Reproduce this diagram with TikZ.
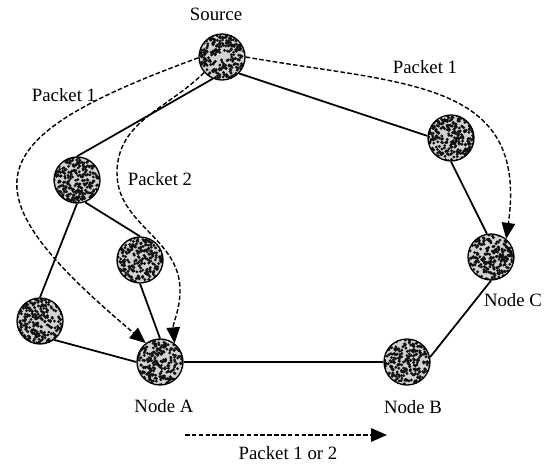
\documentclass[tikz,border=0pt]{standalone}
\usepackage{fontspec}
\setmainfont{Liberation Serif}
\usetikzlibrary{arrows.meta}
\definecolor{NetHostFill}{HTML}{D2D2D2}
\definecolor{NetHostDot}{HTML}{101010}
\definecolor{NetInk}{HTML}{000000}

\begin{document}
\begin{tikzpicture}[font=\fontsize{10.7}{12.8}\selectfont,
  host/.style={circle,draw=NetInk,line width=0.75pt,fill=NetHostFill,minimum size=9.2mm,inner sep=0pt,
    path picture={\foreach \k in {1,...,300}{\fill[NetHostDot] ([shift={(rand*4.7mm,rand*4.7mm)}]path picture bounding box.center) circle (0.9pt);}}},
  link/.style={draw=NetInk,line width=1pt},
  route/.style={draw=NetInk,line width=0.8pt,dash pattern=on 2.6pt off 1.3pt,-{Triangle[length=3.2mm,width=2.7mm]}},
  tag/.style={inner sep=1pt}]
  \useasboundingbox (0,0) rectangle (10.88,9.36);
  \pgfmathsetseed{1207}

  % hosts
  \node[host] (src) at (4.44,8.22) {};
  \node[host] (hop1) at (1.54,5.76) {};
  \node[host] (hop2) at (2.80,4.16) {};
  \node[host] (hop3) at (0.80,2.94) {};
  \node[host] (hop4) at (9.02,6.60) {};
  \node[host] (nodeA) at (3.20,2.12) {};
  \node[host] (nodeB) at (8.14,2.12) {};
  \node[host] (nodeC) at (9.82,4.22) {};

  % links
  \draw[link] (src.247) -- (hop1.north);
  \draw[link] (src.-44) -- (hop4.175);
  \draw[link] (hop1.-70) -- (hop2.north);
  \draw[link] (hop1.south) -- (hop3.north);
  \draw[link] (hop2.south) -- (nodeA.north);
  \draw[link] (hop3.-53) -- (nodeA.west);
  \draw[link] (nodeA.east) -- (nodeB.west);
  \draw[link] (nodeB.12) -- (nodeC.south);
  \draw[link] (hop4.south) -- (nodeC.100);

  % packet routes
  \draw[route] (src.182) to[out=200,in=140,looseness=2.1] (nodeA.127);
  \draw[route] (src.221) to[out=225,in=90] (2.34,5.90) to[out=-90,in=90] (3.60,3.56) to[out=-90,in=95] (nodeA.52);
  \draw[route] (src.0) to[out=-10,in=82,looseness=1.3] (nodeC.50);

  % key
  \coordinate (keyfrom) at (3.70,0.66);
  \coordinate (keyto) at (7.74,0.66);
  \draw[route] (keyfrom) -- (keyto);

  % labels
  \node[tag] (srcname) at (4.32,9.08) {Source};
  \node[tag] (pktoneleft) at (1.28,7.46) {Packet 1};
  \node[tag] (pkttwo) at (3.20,5.78) {Packet 2};
  \node[tag] (pktoneright) at (8.50,8.02) {Packet 1};
  \node[tag] (nameA) at (3.28,1.24) {Node A};
  \node[tag] (nameB) at (8.26,1.22) {Node B};
  \node[tag] (nameC) at (10.26,3.36) {Node C};
  \node[tag] (keyname) at (5.76,0.30) {Packet 1 or 2};
\end{tikzpicture}
\end{document}
